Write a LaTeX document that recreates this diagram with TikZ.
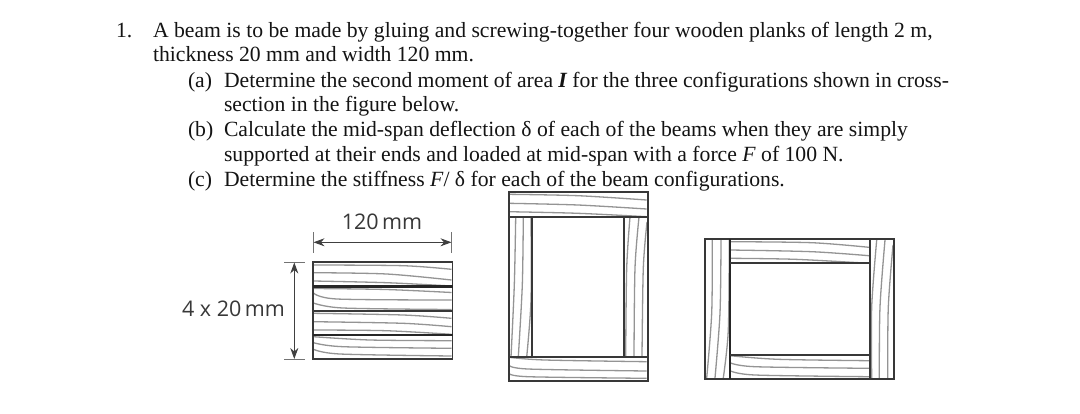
\documentclass[tikz,border=0pt]{standalone}
\usepackage{fontspec}
\setmainfont{Liberation Serif}
\newfontfamily\dimfont{Open Sans}
\usetikzlibrary{arrows.meta}
\tikzset{
  prose/.style={anchor=base west,inner sep=0pt,outer sep=0pt,font=\fontsize{21.68}{25}\selectfont,text=black!92},
  dimlabel/.style={inner sep=0pt,font=\dimfont\fontsize{21.5}{24}\selectfont,text=black!78},
  plank/.style={draw=black!78,line width=1.8pt},
  heavyjoint/.style={draw=black!85,line width=2.4pt},
  grain/.style={draw=black!42,line width=1.3pt},
  dimline/.style={draw=black!75,line width=1pt,{Stealth[length=11pt,width=8pt]}-{Stealth[length=11pt,width=8pt]}},
  dimtick/.style={draw=black!55,line width=1pt}
}
\newcommand{\grainline}[3]{\draw[grain] plot[smooth] coordinates {#1 #2 #3};}
\begin{document}
\begin{tikzpicture}[x=1pt,y=-1pt]
\useasboundingbox (0,0) rectangle (1080,413);
\fill[white] (0,0) rectangle (1080,413);
% text
\node[prose] (n1) at (116,37) {1.};
\node[prose] (l1) at (153,37) {A beam is to be made by gluing and screwing-together four wooden planks of length 2 m,};
\node[prose] (l2) at (153,61) {thickness 20 mm and width 120 mm.};
\node[prose] (la) at (188,87) {(a)};
\node[prose] (l3) at (224,87) {\spaceskip=5.15pt Determine the second moment of area \textbf{\textit{I}} for the three configurations shown in cross-};
\node[prose] (l4) at (224,111) {section in the figure below.};
\node[prose] (lb) at (188,136) {(b)};
\node[prose] (l5) at (224,136) {Calculate the mid-span deflection δ of each of the beams when they are simply};
\node[prose] (l6) at (224,161) {supported at their ends and loaded at mid-span with a force \textit{F} of 100 N.};
\node[prose] (lc) at (188,186) {(c)};
\node[prose] (l7) at (224,186) {Determine the stiffness \textit{F}/ δ for each of the beam configurations.};
% stack: grain
\grainline{(313.5,265)}{(403,265.7)}{(451.5,269.3)}
\grainline{(313.5,272.7)}{(386.7,274)}{(451.5,280)}
\grainline{(313.5,281)}{(386.7,282.7)}{(451.5,286)}
\grainline{(313.5,288.5)}{(386,289.5)}{(451.5,292.5)}
\grainline{(313.5,293)}{(337,299)}{(451.5,300)}
\grainline{(313.5,303)}{(343,308)}{(451.5,309.5)}
\grainline{(313.5,313.3)}{(403,315)}{(451.5,318.3)}
\grainline{(313.5,321.7)}{(403,323.3)}{(451.5,326.7)}
\grainline{(313.5,330)}{(386,330.7)}{(451.5,334.3)}
\grainline{(313.5,336.7)}{(370,340)}{(451.5,340.7)}
\grainline{(313.5,342.7)}{(343,346.7)}{(451.5,348.3)}
\grainline{(313.5,349.3)}{(340,354)}{(451.5,356)}
\draw[plank] (313,262) rectangle (452.5,359.3);
\draw[heavyjoint] (313,286.5) -- (452.5,286.5);
\draw[plank] (313,310.7) -- (452.5,310.7);
\draw[heavyjoint] (313,335) -- (452.5,335);
% dimensions
\coordinate (wl) at (313.5,242.3);
\coordinate (wr) at (451.5,242.3);
\coordinate (ht) at (294.3,262.5);
\coordinate (hb) at (294.3,359);
\draw[dimtick] (313,232) -- (313,253);
\draw[dimtick] (451.5,232) -- (451.5,253);
\draw[dimtick] (284,262) -- (305,262);
\draw[dimtick] (284,359) -- (305,359);
\draw[dimline] (wl) -- (wr);
\draw[dimline] (ht) -- (hb);
\node[dimlabel] (w) at (382,222) {120\,mm};
\node[dimlabel] (h) at (233.5,309) {4 x 20\,mm};
% tall box: grain
\grainline{(508.7,194.3)}{(578,195.7)}{(646.7,200)}
\grainline{(508.7,203.3)}{(578,205)}{(646.7,209)}
\grainline{(508.7,211.7)}{(578,213.3)}{(646.7,216.7)}
\grainline{(508.7,357.3)}{(545,360)}{(646.7,361.7)}
\grainline{(508.7,365)}{(528,369)}{(646.7,371)}
\grainline{(508.7,373.3)}{(528,376.7)}{(646.7,378.3)}
\grainline{(515.7,217.3)}{(514.3,285)}{(511,357)}
\grainline{(523.3,217)}{(522.3,285)}{(518.3,357)}
\grainline{(531,217)}{(531,300)}{(526.7,357)}
\grainline{(630,217)}{(626.7,268)}{(625.7,357)}
\grainline{(639,217)}{(635,268)}{(634,357)}
\grainline{(647,222)}{(643.3,268)}{(642,357)}
\draw[plank] (508.7,192.3) rectangle (647.7,380.7);
\draw[plank] (508.7,216.7) -- (647.7,216.7);
\draw[plank] (508.7,357) -- (647.7,357);
\draw[plank] (532.3,216.7) -- (532.3,357);
\draw[plank] (623.7,216.7) -- (623.7,357);
% wide box: grain
\grainline{(730,241.7)}{(811.7,242.7)}{(869,247.3)}
\grainline{(730,250)}{(811.7,251.7)}{(869,255.7)}
\grainline{(730,258.3)}{(795,259.3)}{(869,263.3)}
\grainline{(730,355.7)}{(778,359.3)}{(869,360.7)}
\grainline{(730,362.7)}{(755,366.7)}{(869,368.3)}
\grainline{(730,370.7)}{(755,375)}{(869,376.7)}
\grainline{(712.3,240)}{(711.7,313)}{(706.7,378)}
\grainline{(721,240)}{(720,313)}{(715,378)}
\grainline{(729.3,240)}{(728.3,330)}{(723.3,378)}
\grainline{(876.7,240)}{(871.7,307)}{(871.7,378)}
\grainline{(885,240)}{(880,307)}{(879.3,378)}
\grainline{(893,245)}{(888.3,307)}{(887.7,378)}
\draw[plank] (705,239) rectangle (894,379);
\draw[heavyjoint] (729.7,239) -- (729.7,379);
\draw[plank] (869.7,239) -- (869.7,379);
\draw[plank] (729.7,263.3) -- (869.7,263.3);
\draw[plank] (729.7,355) -- (869.7,355);
\end{tikzpicture}
\end{document}
